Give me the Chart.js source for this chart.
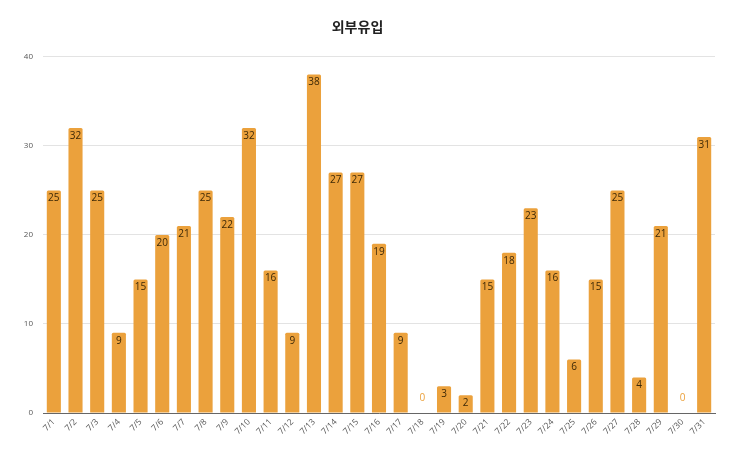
<!DOCTYPE html>
<html>
<head>
<meta charset="utf-8">
<script src="https://cdn.jsdelivr.net/npm/chart.js@4"></script>
<style>
html,body{margin:0;padding:0;background:#fff;}
#wrap{width:738px;height:453px;}
</style>
</head>
<body>
<div id="wrap"><canvas id="c" width="738" height="453"></canvas></div>
<script>
const chartTitle = '외부유입';
const categories = ['7/1','7/2','7/3','7/4','7/5','7/6','7/7','7/8','7/9','7/10','7/11','7/12','7/13','7/14','7/15','7/16','7/17','7/18','7/19','7/20','7/21','7/22','7/23','7/24','7/25','7/26','7/27','7/28','7/29','7/30','7/31'];
const values = [25,32,25,9,15,20,21,25,22,32,16,9,38,27,27,19,9,0,3,2,15,18,23,16,6,15,25,4,21,0,31];
const yTicks = [0,10,20,30,40];

const barColor = '#EBA13C';

const valueLabels = {
  id: 'valueLabels',
  afterDatasetsDraw(chart) {
    const ctx = chart.ctx;
    const meta = chart.getDatasetMeta(0);
    ctx.save();
    ctx.font = '10px "Open Sans", "Noto Sans", sans-serif';
    ctx.textAlign = 'center';
    ctx.textBaseline = 'top';
    meta.data.forEach((bar, i) => {
      const v = values[i];
      if (v > 0) {
        ctx.fillStyle = '#3d2806';
        ctx.fillText(String(v), bar.x, bar.y + 3);
      } else {
        ctx.fillStyle = '#EBA13C';
        ctx.fillText(String(v), bar.x, bar.y - 20);
      }
    });
    ctx.restore();
  }
};

new Chart(document.getElementById('c'), {
  type: 'bar',
  data: {
    labels: categories,
    datasets: [{
      data: values,
      backgroundColor: barColor,
      borderRadius: {topLeft: 1.5, topRight: 1.5},
      borderSkipped: 'bottom',
      categoryPercentage: 1.0,
      barPercentage: 0.65
    }]
  },
  options: {
    responsive: false,
    animation: false,
    devicePixelRatio: 1,
    layout: { padding: { left: 0, right: 23, top: 0, bottom: 0 } },
    plugins: {
      legend: { display: false },
      tooltip: { enabled: false },
      title: {
        display: true,
        text: chartTitle,
        color: '#222',
        font: { family: '"Noto Sans CJK KR", sans-serif', size: 14, weight: 'bold' },
        padding: { top: 18, bottom: 22 }
      }
    },
    scales: {
      x: {
        grid: { display: false, drawTicks: false },
        border: { display: true, color: '#666', width: 1 },
        ticks: {
          color: '#555',
          font: { family: '"Open Sans", sans-serif', size: 8.5 },
          maxRotation: 45,
          minRotation: 45,
          autoSkip: false,
          padding: 4
        },
        afterFit(scale) { scale.height = 40; }
      },
      y: {
        min: 0,
        max: 40,
        afterBuildTicks(scale) { scale.ticks = yTicks.map(v => ({ value: v })); },
        grid: { color: '#e3e3e3', drawTicks: false },
        border: { display: false },
        ticks: {
          color: '#555',
          font: { family: '"Open Sans", sans-serif', size: 8 },
          padding: 10
        },
        afterFit(scale) { scale.width = 43; }
      }
    }
  },
  plugins: [valueLabels]
});
</script>
</body>
</html>
